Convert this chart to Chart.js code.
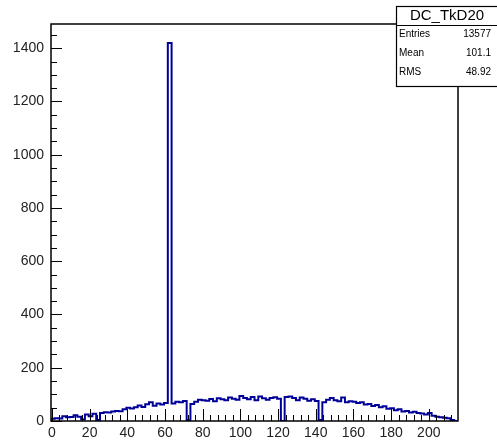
<!DOCTYPE html>
<html>
<head>
<meta charset="utf-8">
<script src="https://cdn.jsdelivr.net/npm/chart.js@4.4.0/dist/chart.umd.min.js"></script>
<style>
  html, body { margin: 0; padding: 0; background: #fff; }
  #wrap { width: 497px; height: 440px; }
</style>
</head>
<body>
<div id="wrap"><canvas id="histo" width="497" height="440"></canvas></div>
<script>
// DC_TkD20: 108 bins of width 2 starting at -0.5
var binLow = -0.5;
var binWidth = 2;
var counts = [
    8, 10, 9, 18, 14, 15, 22, 16, 6, 24,
    18, 27, 4, 30, 33, 32, 36, 38, 37, 44,
    50, 47, 52, 58, 53, 63, 70, 57, 66, 62,
    68, 1420, 66, 72, 70, 75, 3, 64, 72, 80,
    78, 76, 83, 74, 85, 82, 78, 88, 84, 80,
    94, 86, 82, 90, 78, 92, 85, 80, 86, 89,
    84, 0, 90, 92, 86, 78, 88, 84, 76, 82,
    75, 4, 70, 80, 86, 78, 74, 88, 70, 74,
    72, 68, 70, 62, 64, 56, 60, 52, 55, 46,
    48, 40, 44, 36, 38, 32, 35, 30, 28, 24,
    30, 20, 16, 14, 12, 10, 4, 0
];
var xTicks = [0, 20, 40, 60, 80, 100, 120, 140, 160, 180, 200];
var yTicks = [0, 200, 400, 600, 800, 1000, 1200, 1400];
var statsName = 'DC_TkD20';
var statsLabels = ['Entries', 'Mean', 'RMS'];
var statsValues = ['13577', '101.1', '48.92'];

var xMax = binLow + counts.length * binWidth;
var yMax = Math.max.apply(null, counts) * 1.05;

// outline of the histogram: each point carries the content of the bin ending there
var steps = [{ x: binLow, y: 0 }];
counts.forEach(function (c, i) {
    steps.push({ x: binLow + (i + 1) * binWidth, y: c });
});
steps.push({ x: xMax, y: 0 });

var FONT = '"Liberation Sans", Arial, Helvetica, sans-serif';

// ROOT style frame: ticks drawn inwards, plus the stats box
var rootFrame = {
    id: 'rootFrame',
    afterDatasetsDraw: function (chart) {
        var ctx = chart.ctx, a = chart.chartArea;
        var xs = chart.scales.x, ys = chart.scales.y;
        ctx.save();
        ctx.strokeStyle = '#000';
        ctx.lineWidth = 1;
        ctx.beginPath();
        for (var v = 0; v < xMax; v += 4) {
            var px = Math.round(xs.getPixelForValue(v)) + 0.5;
            var len = (v % 20 === 0) ? 12 : 6;
            ctx.moveTo(px, a.bottom);
            ctx.lineTo(px, a.bottom - len);
        }
        for (var w = 0; w < yMax; w += 50) {
            var py = Math.round(ys.getPixelForValue(w)) + 0.5;
            var l = (w % 200 === 0) ? 11 : 6;
            ctx.moveTo(a.left, py);
            ctx.lineTo(a.left + l, py);
        }
        ctx.stroke();

        ctx.lineWidth = 1.5;
        ctx.strokeRect(a.left, a.top, a.right - a.left, a.bottom - a.top);

        // stats box
        var bx = 396.5, by = 6.5, bw = 102, bh = 80;
        ctx.fillStyle = '#fff';
        ctx.fillRect(bx, by, bw, bh);
        ctx.lineWidth = 1.2;
        ctx.strokeRect(bx, by, bw, bh);
        ctx.beginPath();
        ctx.moveTo(bx, 25.5);
        ctx.lineTo(bx + bw, 25.5);
        ctx.stroke();

        ctx.fillStyle = '#000';
        ctx.textBaseline = 'middle';
        ctx.textAlign = 'center';
        ctx.font = '15px ' + FONT;
        ctx.fillText(statsName, 447, 16);
        ctx.font = '10px ' + FONT;
        statsLabels.forEach(function (lab, i) {
            var ty = 34 + i * 19;
            ctx.textAlign = 'left';
            ctx.fillText(lab, 399, ty);
            ctx.textAlign = 'right';
            ctx.fillText(statsValues[i], 491, ty);
        });
        ctx.restore();
    }
};

function plainLabel(value) { return String(value); }

new Chart(document.getElementById('histo'), {
    type: 'scatter',
    data: {
        datasets: [{
            data: steps,
            showLine: true,
            stepped: 'after',
            borderColor: '#000099',
            borderWidth: 2,
            pointRadius: 0,
            fill: false
        }]
    },
    options: {
        responsive: false,
        animation: false,
        layout: { padding: { left: 0, top: 24, right: 39, bottom: 0 } },
        plugins: { legend: { display: false }, tooltip: { enabled: false } },
        scales: {
            x: {
                type: 'linear',
                min: binLow,
                max: xMax,
                grid: { display: false, drawTicks: false },
                border: { display: false },
                ticks: { color: '#222', padding: 4, font: { family: FONT, size: 14 }, callback: plainLabel },
                afterBuildTicks: function (s) {
                    s.ticks = xTicks.map(function (v) { return { value: v }; });
                },
                afterFit: function (s) { s.height = 19; }
            },
            y: {
                type: 'linear',
                min: 0,
                max: yMax,
                grid: { display: false, drawTicks: false },
                border: { display: false },
                ticks: { color: '#222', padding: 7, font: { family: FONT, size: 14 }, callback: plainLabel },
                afterBuildTicks: function (s) {
                    s.ticks = yTicks.map(function (v) { return { value: v }; });
                },
                afterFit: function (s) { s.width = 51; }
            }
        }
    },
    plugins: [rootFrame]
});
</script>
</body>
</html>
